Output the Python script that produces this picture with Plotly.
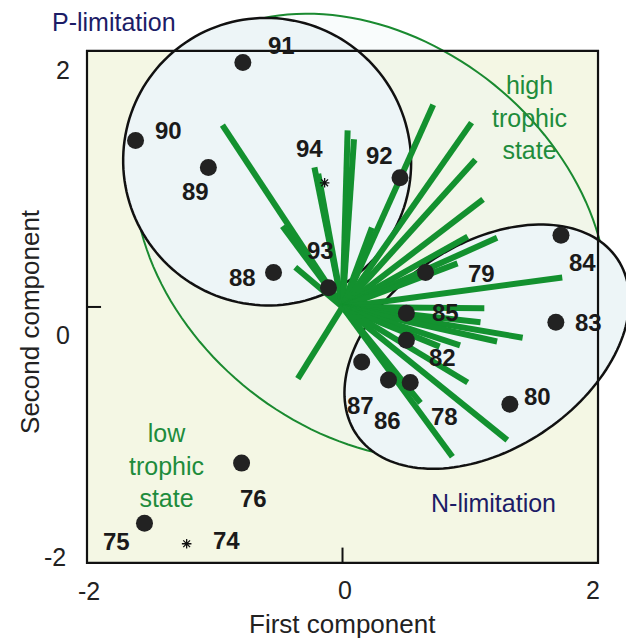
import numpy as np
import plotly.graph_objects as go

# ---- sample scores on the first two principal components ----
years = ["91", "90", "89", "88", "92", "93", "79", "84", "85", "83", "82",
         "87", "86", "78", "80", "76", "75"]
pc1 = [-0.78, -1.62, -1.05, -0.54, 0.45, -0.11, 0.65, 1.71, 0.50, 1.67, 0.50,
       0.15, 0.36, 0.53, 1.31, -0.79, -1.55]
pc2 = [1.91, 1.30, 1.09, 0.27, 1.01, 0.15, 0.27, 0.56, -0.05, -0.12, -0.26,
       -0.43, -0.57, -0.59, -0.76, -1.22, -1.69]
star_years = ["94", "74"]
star_pc1 = [-0.14, -1.22]
star_pc2 = [0.97, -1.85]

# ---- variable loadings (drawn as rays from the origin) ----
load_pc1 = [-0.94, -0.47, -0.37, -0.22, -0.19, 0.04, 0.09, 0.23, 0.71, 1.01,
            1.04, 1.10, 0.98, 1.21, 0.90, 1.72, 1.11, 1.08, 1.41, 1.21, 0.92,
            0.76, 0.98, 1.29, 0.86, 0.61, -0.35]
load_pc2 = [1.42, 0.63, 0.31, 1.09, 1.04, 1.38, 1.31, 0.62, 1.58, 1.44,
            1.15, 0.84, 0.55, 0.54, 0.34, 0.23, -0.01, -0.12, -0.24, -0.27,
            -0.30, -0.31, -0.59, -1.04, -1.17, -0.75, -0.56]

# ---- group envelopes: centre x, centre y, semi-axis a, semi-axis b, angle (deg) ----
trophic_env = (0.22, 0.55, 2.03, 1.53, 141.5)
p_lim_env = (-0.59, 1.135, 1.13, 1.12, 147.0)
n_lim_env = (1.13, -0.31, 1.23, 0.80, 33.8)

tick_vals = [-2, 0, 2]
tick_text = ["-2", "0", "2"]

# label placement relative to each point (pixels: right, down)
label_off = {"91": (39, -17), "90": (33, -10), "89": (-13, 24), "88": (-31, 5),
             "92": (-21, -22), "93": (-8, -37), "79": (56, 1), "84": (22, 27),
             "85": (39, -1), "83": (33, 0), "82": (36, 17), "87": (-1, 43),
             "86": (-1, 41), "78": (34, 34), "80": (28, -8), "76": (12, 35),
             "75": (-28, 18), "94": (-15, -34), "74": (40, -3)}

FONT = "Arial, Liberation Sans, sans-serif"
GREEN = "#13912f"
NAVY = "#1c1c66"
LO, HI = -2, 2


def ellipse_path(cx, cy, a, b, ang):
    t = np.linspace(0, 2 * np.pi, 160)
    th = np.radians(ang)
    xs = cx + a * np.cos(t) * np.cos(th) - b * np.sin(t) * np.sin(th)
    ys = cy + a * np.cos(t) * np.sin(th) + b * np.sin(t) * np.cos(th)
    return "M " + " L ".join(f"{x:.4f},{y:.4f}" for x, y in zip(xs, ys)) + " Z"


fig = go.Figure()

shapes = [
    dict(type="rect", x0=LO, x1=HI, y0=LO, y1=HI, fillcolor="#f4f7e4",
         line=dict(width=0), layer="below"),
    dict(type="path", path=ellipse_path(*trophic_env), line=dict(color="#1a8a30", width=2),
         fillcolor="rgba(236,244,246,0.3)", layer="below"),
]
for env in (p_lim_env, n_lim_env):
    shapes.append(dict(type="path", path=ellipse_path(*env), line=dict(color="#111", width=2.5),
                       fillcolor="#edf5f7", layer="below"))
shapes.append(dict(type="rect", x0=LO, x1=HI, y0=LO, y1=HI,
                   line=dict(color="#111", width=2.2), layer="below"))
# inward tick marks at zero
shapes.append(dict(type="line", x0=0, x1=0, y0=LO, y1=LO + 0.12,
                   line=dict(color="#111", width=2), layer="below"))
shapes.append(dict(type="line", x0=LO, x1=LO + 0.11, y0=0, y1=0,
                   line=dict(color="#111", width=2), layer="below"))
fig.update_layout(shapes=shapes)

# loadings
lx, ly = [], []
for a, b in zip(load_pc1, load_pc2):
    lx += [0, a, None]
    ly += [0, b, None]
fig.add_trace(go.Scatter(x=lx, y=ly, mode="lines", line=dict(color=GREEN, width=6),
                         hoverinfo="skip"))

# scores
fig.add_trace(go.Scatter(x=pc1, y=pc2, mode="markers", text=years,
                         marker=dict(size=17, color="#222")))
fig.add_trace(go.Scatter(x=star_pc1, y=star_pc2, mode="markers", text=star_years,
                         marker=dict(symbol="asterisk-open", size=8, color="#111",
                                     line=dict(width=1.3, color="#111"))))

for name, x, y in list(zip(years, pc1, pc2)) + list(zip(star_years, star_pc1, star_pc2)):
    dx, dy = label_off[name]
    fig.add_annotation(x=x, y=y, text=name, showarrow=False, xshift=dx, yshift=-dy,
                       font=dict(family=FONT, size=24, color="#1a1a1a", weight="bold"))

# group captions
captions = [
    ("P-limitation", -1.79, 2.227, NAVY),
    ("N-limitation", 1.18, -1.53, NAVY),
    ("high<br>trophic<br>state", 1.46, 1.48, "#1e8c3c"),
    ("low<br>trophic<br>state", -1.38, -1.24, "#1e8c3c"),
]
for txt, x, y, c in captions:
    fig.add_annotation(x=x, y=y, text=txt, showarrow=False,
                       font=dict(family=FONT, size=25, color=c))

# tick labels
x_tick_shift = [(2, -28), (2, -27), (-5, -27)]
y_tick_shift = [(-19, 6), (-15, -28), (-15, -19)]
for v, t, (sx, sy) in zip(tick_vals, tick_text, x_tick_shift):
    fig.add_annotation(x=v, y=LO, text=t, showarrow=False, xshift=sx, yshift=sy,
                       font=dict(family=FONT, size=25, color="#222"))
for v, t, (sx, sy) in zip(tick_vals, tick_text, y_tick_shift):
    fig.add_annotation(x=LO, y=v, text=t, showarrow=False, xshift=sx, yshift=sy,
                       xanchor="right", font=dict(family=FONT, size=25, color="#222"))

# axis titles
fig.add_annotation(x=0, y=LO, text="First component", showarrow=False, yshift=-61,
                   font=dict(family=FONT, size=26, color="#222"))
fig.add_annotation(x=LO, y=0, text="Second component", showarrow=False, xshift=-57, yshift=-15,
                   textangle=-90, font=dict(family=FONT, size=26, color="#222"))

fig.update_layout(width=626, height=639, margin=dict(l=0, r=0, t=0, b=0),
                  paper_bgcolor="white", plot_bgcolor="white", showlegend=False,
                  xaxis=dict(range=[-2.681, 2.219], visible=False, fixedrange=True),
                  yaxis=dict(range=[-2.594, 2.398], visible=False, fixedrange=True))
fig.write_html("out.html")
